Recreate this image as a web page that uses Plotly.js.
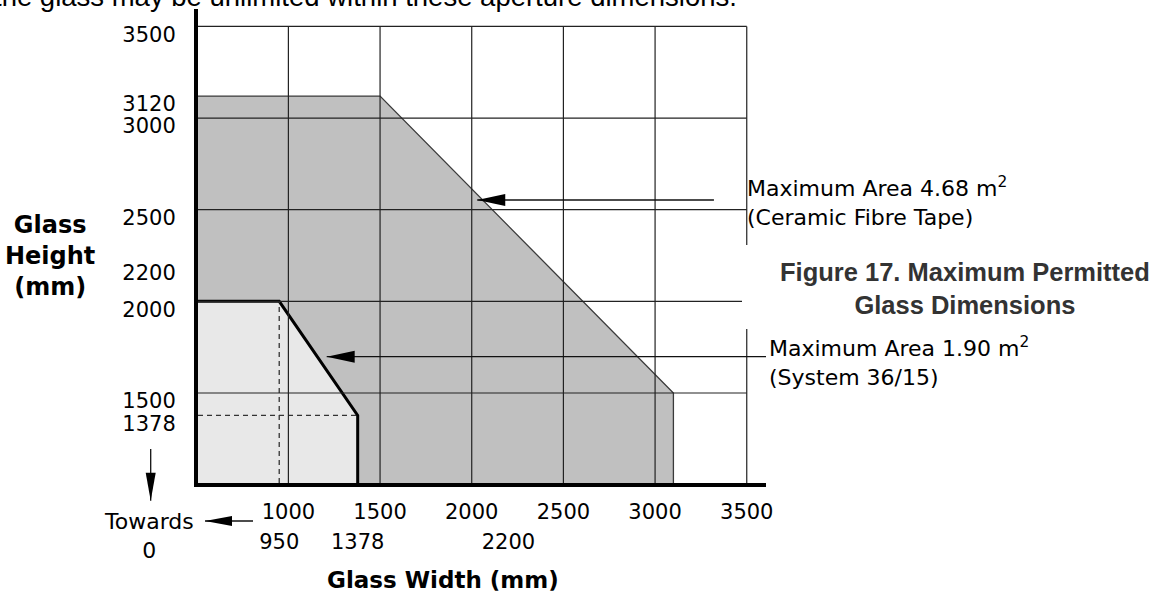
<!DOCTYPE html>
<html>
<head>
<meta charset="utf-8">
<script src="https://cdn.plot.ly/plotly-3.0.1.min.js"></script>
<style>html,body{margin:0;padding:0;background:#fff;}</style>
</head>
<body>
<div id="chart" style="width:1165px;height:594px;"></div>
<script>
// ---------------- data ----------------
// Ceramic Fibre Tape envelope (max area 4.68 m²): corner points (width, height) in mm
const ceramicCornerW = [1500, 3100];
const ceramicCornerH = [3120, 1500];
// System 36/15 envelope (max area 1.90 m²): corner points (width, height) in mm
const systemCornerW = [950, 1378];
const systemCornerH = [2000, 1378];
// grid / tick values
const gridX = [1000, 1500, 2000, 2500, 3000, 3500];
const gridY = [1500, 2000, 2500, 3000, 3500];
const xTickMain = [1000, 1500, 2000, 2500, 3000, 3500];
const xTickSecond = [950, 1378, 2200];
const yTickVals = [3500, 3120, 3000, 2500, 2200, 2000, 1500, 1378];
// texts
const topText = 'the glass may be unlimited within these aperture dimensions.';
const xTitle = 'Glass Width (mm)';
const yTitle = 'Glass<br>Height<br>(mm)';
const ceramicLabel = 'Maximum Area 4.68 m<sup>2</sup><br>(Ceramic Fibre Tape)';
const systemLabel = 'Maximum Area 1.90 m<sup>2</sup><br>(System 36/15)';
const caption = 'Figure 17. Maximum Permitted<br>Glass Dimensions';
const towardsText = 'Towards<br>0';

// ---------------- layout helpers ----------------
const W = 1165, H = 594;
const M = {l: 198, r: 399, t: 9, b: 111};
const PW = W - M.l - M.r, PH = H - M.t - M.b;
const X_RANGE = [507, 3605];
const Y_RANGE = [1009, 3595];
const xMin = X_RANGE[0], yMin = Y_RANGE[0];
const px = v => (v - M.l) / PW;          // page pixel -> paper x
const py = v => 1 - (v - M.t) / PH;      // page pixel -> paper y

const FONT = 'DejaVu Sans, Verdana, sans-serif';
const ARIAL = 'Liberation Sans, Arial, sans-serif';

// ---------------- traces ----------------
const cw = ceramicCornerW, ch = ceramicCornerH;
const sw = systemCornerW, sh = systemCornerH;
const traces = [
  { // ceramic fibre tape envelope fill
    type: 'scatter', mode: 'lines', fill: 'toself', fillcolor: '#c0c0c0',
    x: [xMin, cw[0], cw[1], cw[1], xMin],
    y: [ch[0], ch[0], ch[1], yMin, yMin],
    line: {width: 0}, hoverinfo: 'skip'
  },
  { // ceramic outline
    type: 'scatter', mode: 'lines',
    x: [xMin, cw[0], cw[1], cw[1]],
    y: [ch[0], ch[0], ch[1], yMin],
    line: {color: '#3a3a3a', width: 1.3}, hoverinfo: 'skip'
  },
  { // system 36/15 fill
    type: 'scatter', mode: 'lines', fill: 'toself', fillcolor: '#e8e8e8',
    x: [xMin, sw[0], sw[1], sw[1], xMin],
    y: [sh[0], sh[0], sh[1], yMin, yMin],
    line: {width: 0}, hoverinfo: 'skip'
  },
  { // dashed reference lines at 950 width and 1378 height (on the secondary-label axis)
    type: 'scatter', mode: 'lines', xaxis: 'x2',
    x: [sw[0], sw[0], null, xMin, sw[1]],
    y: [yMin, sh[0], null, sh[1], sh[1]],
    line: {color: '#333', width: 1.3, dash: '5px,4px'}, hoverinfo: 'skip'
  },
  { // system outline (thick)
    type: 'scatter', mode: 'lines',
    x: [xMin, sw[0], sw[1], sw[1]],
    y: [sh[0], sh[0], sh[1], yMin],
    line: {color: '#000', width: 3}, hoverinfo: 'skip'
  }
];

// ---------------- shapes ----------------
const shapes = [];
const gxMax = Math.max(...gridX), gyMax = Math.max(...gridY);
gridX.forEach(g => shapes.push({type: 'line', xref: 'x', yref: 'y', x0: g, x1: g, y0: yMin, y1: gyMax,
  layer: 'above', line: {color: '#222', width: 1.2}}));
gridY.forEach(g => shapes.push({type: 'line', xref: 'x', yref: 'y', x0: xMin, x1: gxMax, y0: g, y1: g,
  layer: 'above', line: {color: '#222', width: 1.2}}));
// white box behind the figure caption
shapes.push({type: 'rect', xref: 'paper', yref: 'paper', x0: px(742), x1: px(1165), y0: py(329), y1: py(245),
  fillcolor: '#fff', line: {width: 0}, layer: 'above'});

function leftArrow(ref, tipX, tipY, tailX, len, half) {
  shapes.push({type: 'line', xref: ref.x, yref: ref.y, x0: tipX, x1: tailX, y0: tipY, y1: tipY,
    layer: 'above', line: {color: '#111', width: 1.3}});
  shapes.push({type: 'path', xref: ref.x, yref: ref.y, xsizemode: 'pixel', ysizemode: 'pixel',
    xanchor: tipX, yanchor: tipY, path: `M0,0 L${len},${half} L${len},${-half} Z`,
    fillcolor: '#000', line: {width: 0}, layer: 'above'});
}
// arrows pointing at the two envelopes (data coordinates)
leftArrow({x: 'x', y: 'y'}, 2030, 2553, 3321, 28, 6);
leftArrow({x: 'x', y: 'y'}, 1209, 1698, X_RANGE[1], 28, 6);
// "Towards 0" arrows (page positions)
leftArrow({x: 'paper', y: 'paper'}, px(205), py(521), px(253), 27, 5);
shapes.push({type: 'line', xref: 'paper', yref: 'paper', x0: px(150.7), x1: px(150.7), y0: py(449), y1: py(500.7),
  line: {color: '#111', width: 1.3}});
shapes.push({type: 'path', xref: 'paper', yref: 'paper', xsizemode: 'pixel', ysizemode: 'pixel',
  xanchor: px(150.7), yanchor: py(500.7), path: 'M0,0 L-5,28 L5,28 Z', fillcolor: '#000', line: {width: 0}});

// ---------------- annotations ----------------
const ann = (text, x, y, xanchor, yanchor, font, extra) => Object.assign({
  text, xref: 'paper', yref: 'paper', x: px(x), y: py(y), xanchor, yanchor, showarrow: false, font
}, extra || {});
const annotations = [
  ann(topText, 739, -3.6, 'right', 'middle', {family: ARIAL, size: 27.5, color: '#000'}),
  ann(yTitle, 49.5, 256, 'center', 'middle', {family: FONT, size: 24, color: '#000', weight: 'bold'}, {align: 'center'}),
  ann(xTitle, 443, 580, 'center', 'middle', {family: FONT, size: 23, color: '#000', weight: 'bold'}),
  ann(towardsText, 149, 536, 'center', 'middle', {family: FONT, size: 22, color: '#000'}, {align: 'center'}),
  ann(ceramicLabel, 745, 201.7, 'left', 'middle', {family: FONT, size: 22, color: '#000'}, {align: 'left'}),
  ann(systemLabel, 766.7, 361.7, 'left', 'middle', {family: FONT, size: 22, color: '#000'}, {align: 'left'}),
  ann(caption, 964.5, 288.3, 'center', 'middle', {family: ARIAL, size: 25.5, color: '#333', weight: 'bold'}, {align: 'center'})
];

const tickFont = {family: FONT, size: 21, color: '#000'};
const layout = {
  width: W, height: H,
  margin: M,
  paper_bgcolor: '#fff', plot_bgcolor: '#fff',
  showlegend: false, hovermode: false,
  xaxis: {
    range: X_RANGE, showgrid: false, zeroline: false,
    showline: true, linecolor: '#000', linewidth: 4,
    tickmode: 'array', tickvals: xTickMain, ticktext: xTickMain.map(String), tickangle: 0,
    ticks: '', ticklabelstandoff: 7, tickfont: tickFont
  },
  xaxis2: {
    overlaying: 'x', anchor: 'y', side: 'bottom',
    range: X_RANGE, showgrid: false, zeroline: false, showline: false,
    tickmode: 'array', tickvals: xTickSecond, ticktext: xTickSecond.map(String), tickangle: 0,
    ticks: '', ticklabelstandoff: 44, tickfont: tickFont
  },
  yaxis: {
    range: Y_RANGE, showgrid: false, zeroline: false,
    showline: true, linecolor: '#000', linewidth: 4,
    tickmode: 'array', tickvals: yTickVals, ticktext: yTickVals.map(String),
    ticks: '', ticklabelstandoff: 14, ticklabelshift: 8, tickfont: tickFont
  },
  shapes, annotations
};

Plotly.newPlot('chart', traces, layout, {displayModeBar: false, staticPlot: true});
</script>
</body>
</html>
